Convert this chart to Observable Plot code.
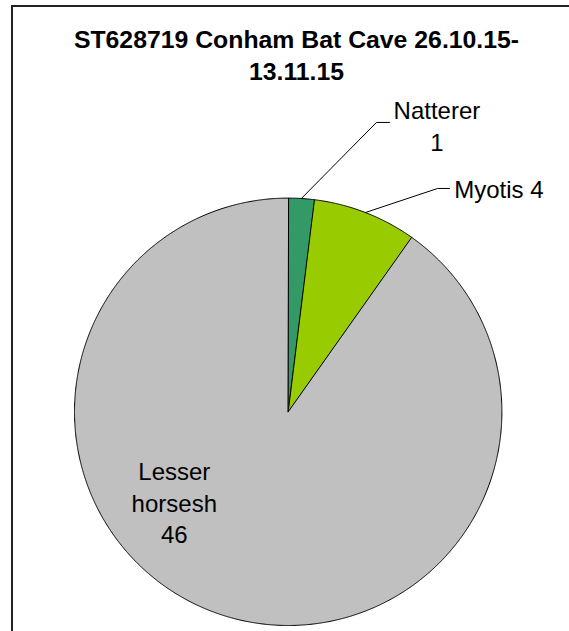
<!DOCTYPE html>
<html>
<head>
<meta charset="utf-8">
<script src="https://cdn.jsdelivr.net/npm/d3@7"></script>
<script src="https://cdn.jsdelivr.net/npm/@observablehq/plot@0.6"></script>
<style>
  html, body { margin: 0; padding: 0; background: #fff; overflow: hidden; }
  body { width: 569px; height: 631px; position: relative; font-family: "Liberation Sans", Arial, sans-serif; }
  #frame { position: absolute; left: 11px; top: 5px; width: 700px; height: 800px;
           border-left: 2px solid #222; border-top: 2px solid #222; box-sizing: border-box; }
  #title { position: absolute; left: 0; top: 23.5px; width: 593px; text-align: center;
           font-weight: bold; font-size: 24.8px; line-height: 32.5px; color: #000; }
  #chart { position: absolute; left: 0; top: 0; }
</style>
</head>
<body>
<div id="frame"></div>
<div id="chart"></div>
<div id="title">ST628719 Conham Bat Cave 26.10.15-<br>13.11.15</div>
<script>
// Bat counts per species
const species = ["Natterer", "Myotis", "Lesser horsesh"];
const counts = [1, 4, 46];
const colors = ["#339966", "#99CC00", "#C0C0C0"];

// Pie placement in pixels, and label placement in units of the pie radius
const cx = 287.7, cy = 411.3, R = 213.7;
const labelLayout = {
  "Natterer":       {x: 0.696, y: -1.342, wrapName: false, countSep: "\n", elbow: [0.413, -1.354], end: [0.474, -1.354]},
  "Myotis":         {x: 0.986, y: -1.045, wrapName: false, countSep: " ",  elbow: [0.699, -1.045], end: [0.755, -1.045]},
  "Lesser horsesh": {x: -0.533, y: 0.420, wrapName: true,  countSep: "\n", elbow: null, end: null}
};

const rows = species.map((name, i) => ({name, count: counts[i]}));
const arcs = d3.pie().sort(null).value(d => d.count)(rows);

// Slice outlines: centre, then points along the arc
const slicePts = [];
for (const a of arcs) {
  const name = a.data.name;
  slicePts.push({name, x: 0, y: 0});
  const n = Math.max(2, Math.ceil((a.endAngle - a.startAngle) / 0.005));
  for (let k = 0; k <= n; k++) {
    const t = a.startAngle + (a.endAngle - a.startAngle) * k / n;
    slicePts.push({name, x: Math.sin(t), y: -Math.cos(t)});
  }
}

// Leader lines from the slice mid-angle on the rim to the label
const leaderPts = [];
for (const a of arcs) {
  const L = labelLayout[a.data.name];
  if (!L.elbow) continue;
  const m = (a.startAngle + a.endAngle) / 2;
  leaderPts.push({name: a.data.name, x: Math.sin(m), y: -Math.cos(m)});
  leaderPts.push({name: a.data.name, x: L.elbow[0], y: L.elbow[1]});
  leaderPts.push({name: a.data.name, x: L.end[0], y: L.end[1]});
}

const labels = arcs.map(a => {
  const L = labelLayout[a.data.name];
  const nm = L.wrapName ? a.data.name.split(" ").join("\n") : a.data.name;
  return {name: a.data.name, x: L.x, y: L.y, text: nm + L.countSep + a.data.count};
});

const chart = Plot.plot({
  width: 569,
  height: 631,
  margin: 0,
  style: {background: "transparent", overflow: "visible"},
  x: {domain: [-1, 1], range: [cx - R, cx + R], axis: null},
  y: {domain: [-1, 1], range: [cy - R, cy + R], axis: null},
  color: {domain: species, range: colors},
  marks: [
    Plot.line(slicePts, {x: "x", y: "y", z: "name", fill: "name", stroke: "#000", strokeWidth: 1, curve: "linear-closed"}),
    Plot.line(leaderPts, {x: "x", y: "y", z: "name", stroke: "#000", strokeWidth: 1}),
    Plot.text(labels, {x: "x", y: "y", text: "text", fontSize: 24, lineHeight: 1.3,
      fontFamily: "Liberation Sans, Arial, sans-serif", fill: "#000", textAnchor: "middle", lineAnchor: "middle"})
  ]
});
document.getElementById("chart").appendChild(chart);
</script>
</body>
</html>
